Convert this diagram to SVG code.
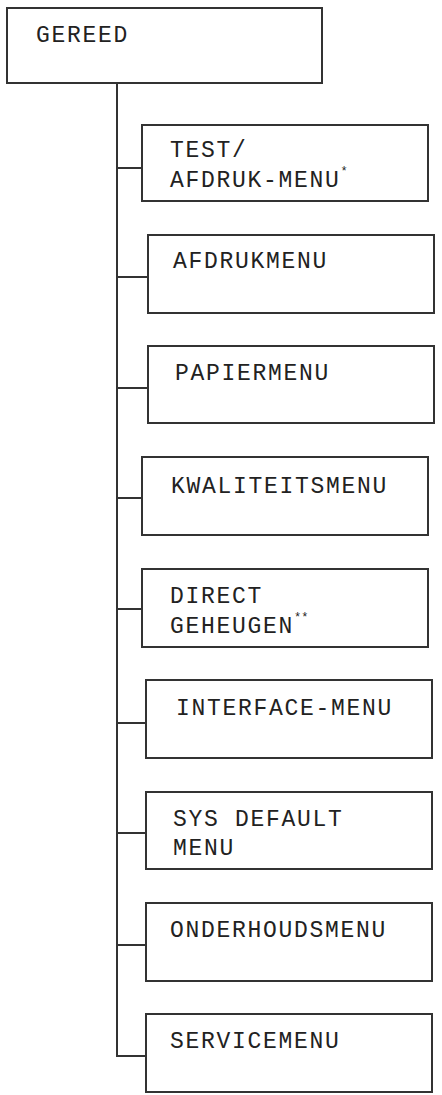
<svg xmlns="http://www.w3.org/2000/svg" width="442" height="1095" viewBox="0 0 442 1095">
<style>
.box{fill:#fff;stroke:#333;stroke-width:2}
.ln{fill:none;stroke:#333;stroke-width:2}
text{font-family:"Liberation Mono","Courier New",monospace;font-size:23px;letter-spacing:1.7px;fill:#222}
.sup{font-size:12px;letter-spacing:0}
</style>
<rect width="442" height="1095" fill="#fff"/>
<g id="connectors">
<path class="ln" d="M117 83V1057"/>
<path class="ln" d="M117 168H142M117 277H148M117 388H148M117 498H142M117 609H142M117 723H146M117 833H146M117 945H146M117 1056H146"/>
</g>
<g id="gereed"><rect class="box" x="7" y="8" width="315" height="75"/><text x="36" y="42">GEREED</text></g>
<g id="test-afdruk"><rect class="box" x="142" y="125" width="286" height="76"/><text x="170" y="157">TEST/</text><text x="170" y="187">AFDRUK-MENU<tspan class="sup" dy="-12">*</tspan></text></g>
<g id="afdrukmenu"><rect class="box" x="148" y="235" width="286" height="78"/><text x="173" y="268">AFDRUKMENU</text></g>
<g id="papiermenu"><rect class="box" x="148" y="346" width="286" height="77"/><text x="175" y="380">PAPIERMENU</text></g>
<g id="kwaliteitsmenu"><rect class="box" x="142" y="457" width="286" height="78"/><text x="171" y="493">KWALITEITSMENU</text></g>
<g id="direct-geheugen"><rect class="box" x="142" y="569" width="286" height="78"/><text x="170" y="603">DIRECT</text><text x="170" y="633">GEHEUGEN<tspan class="sup" dy="-12">**</tspan></text></g>
<g id="interface-menu"><rect class="box" x="146" y="680" width="286" height="78"/><text x="176" y="715">INTERFACE-MENU</text></g>
<g id="sys-default"><rect class="box" x="146" y="792" width="286" height="77"/><text x="173" y="826">SYS DEFAULT</text><text x="173" y="855">MENU</text></g>
<g id="onderhoudsmenu"><rect class="box" x="146" y="903" width="286" height="78"/><text x="170" y="937">ONDERHOUDSMENU</text></g>
<g id="servicemenu"><rect class="box" x="146" y="1014" width="286" height="78"/><text x="170" y="1048">SERVICEMENU</text></g>
</svg>
